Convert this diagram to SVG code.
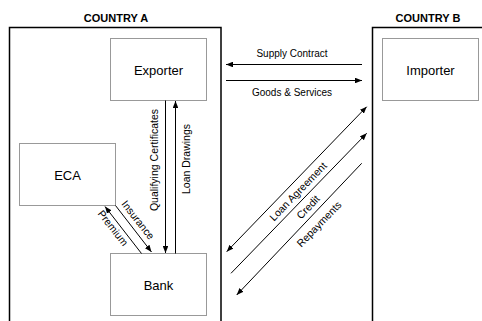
<svg xmlns="http://www.w3.org/2000/svg" width="482" height="321" viewBox="0 0 482 321">
<style>
.frame{fill:none;stroke:#000;stroke-width:1.5}
.box{fill:#fff;stroke:#999;stroke-width:1}
.big{font-family:"Liberation Sans",Arial,sans-serif;font-size:13px;fill:#000;text-anchor:middle}
.hdr{font-family:"Liberation Sans",Arial,sans-serif;font-size:11px;font-weight:bold;fill:#000;text-anchor:middle}
.lbl{font-family:"Liberation Sans",Arial,sans-serif;font-size:10px;fill:#000;text-anchor:middle}
.rl{font-size:10.5px}
.ln{stroke:#000;stroke-width:1;fill:none}
</style>
<defs>
<marker id="ah" viewBox="0 0 10 8" refX="10" refY="4" markerWidth="7" markerHeight="5.6" markerUnits="userSpaceOnUse" orient="auto-start-reverse">
<path d="M0,0 L10,4 L0,8 z" fill="#000"/>
</marker>
</defs>
<rect width="482" height="321" fill="#fff"/>
<g id="countryA">
<path class="frame" d="M9.5,330 V27.5 H221 V330"/>
<text class="hdr" x="116" y="22">COUNTRY A</text>
</g>
<g id="countryB">
<path class="frame" d="M372.5,330 V27.5 H490"/>
<text class="hdr" x="428" y="22">COUNTRY B</text>
</g>
<g id="exporter">
<rect class="box" x="110.5" y="38.5" width="96" height="62"/>
<text class="big" x="158.5" y="74.5">Exporter</text>
</g>
<g id="importer">
<rect class="box" x="382.5" y="38.5" width="96" height="62"/>
<text class="big" x="430.5" y="74.5">Importer</text>
</g>
<g id="eca">
<rect class="box" x="19.5" y="143.5" width="96" height="62"/>
<text class="big" x="67.5" y="179.5">ECA</text>
</g>
<g id="bank">
<rect class="box" x="110.5" y="253.5" width="96" height="62"/>
<text class="big" x="158.5" y="289.5">Bank</text>
</g>
<g id="connectors">
<line class="ln" x1="362" y1="64.5" x2="226" y2="64.5" marker-end="url(#ah)"/>
<line class="ln" x1="226" y1="80.5" x2="362" y2="80.5" marker-end="url(#ah)"/>
<line class="ln" x1="165.5" y1="100.5" x2="165.5" y2="253" marker-end="url(#ah)"/>
<line class="ln" x1="175.5" y1="253.5" x2="175.5" y2="101" marker-end="url(#ah)"/>
<line class="ln" x1="115.5" y1="205.5" x2="151.5" y2="252" marker-end="url(#ah)"/>
<line class="ln" x1="141.5" y1="253.5" x2="105" y2="206.5" marker-end="url(#ah)"/>
<line class="ln" x1="226.7" y1="251.7" x2="366.7" y2="106.7" marker-start="url(#ah)" marker-end="url(#ah)"/>
<line class="ln" x1="231" y1="273.3" x2="366.7" y2="133.3" marker-end="url(#ah)"/>
<line class="ln" x1="361.7" y1="163.3" x2="236.7" y2="295" marker-end="url(#ah)"/>
</g>
<g id="labels">
<text class="lbl" x="292" y="57">Supply Contract</text>
<text class="lbl" x="292" y="96">Goods &amp; Services</text>
<text class="lbl rl" transform="translate(154.5,160) rotate(-90)" y="3.7">Qualifying Certificates</text>
<text class="lbl rl" transform="translate(186.5,159) rotate(-90)" y="3.7">Loan Drawings</text>
<text class="lbl rl" transform="translate(138,220) rotate(52)" y="3.7">Insurance</text>
<text class="lbl rl" transform="translate(113,228) rotate(52)" y="3.7">Premium</text>
<text class="lbl rl" transform="translate(298,191.5) rotate(-46)" y="3.7">Loan Agreement</text>
<text class="lbl rl" transform="translate(308,207) rotate(-46)" y="3.7">Credit</text>
<text class="lbl rl" transform="translate(319,224) rotate(-46)" y="3.7">Repayments</text>
</g>
</svg>
